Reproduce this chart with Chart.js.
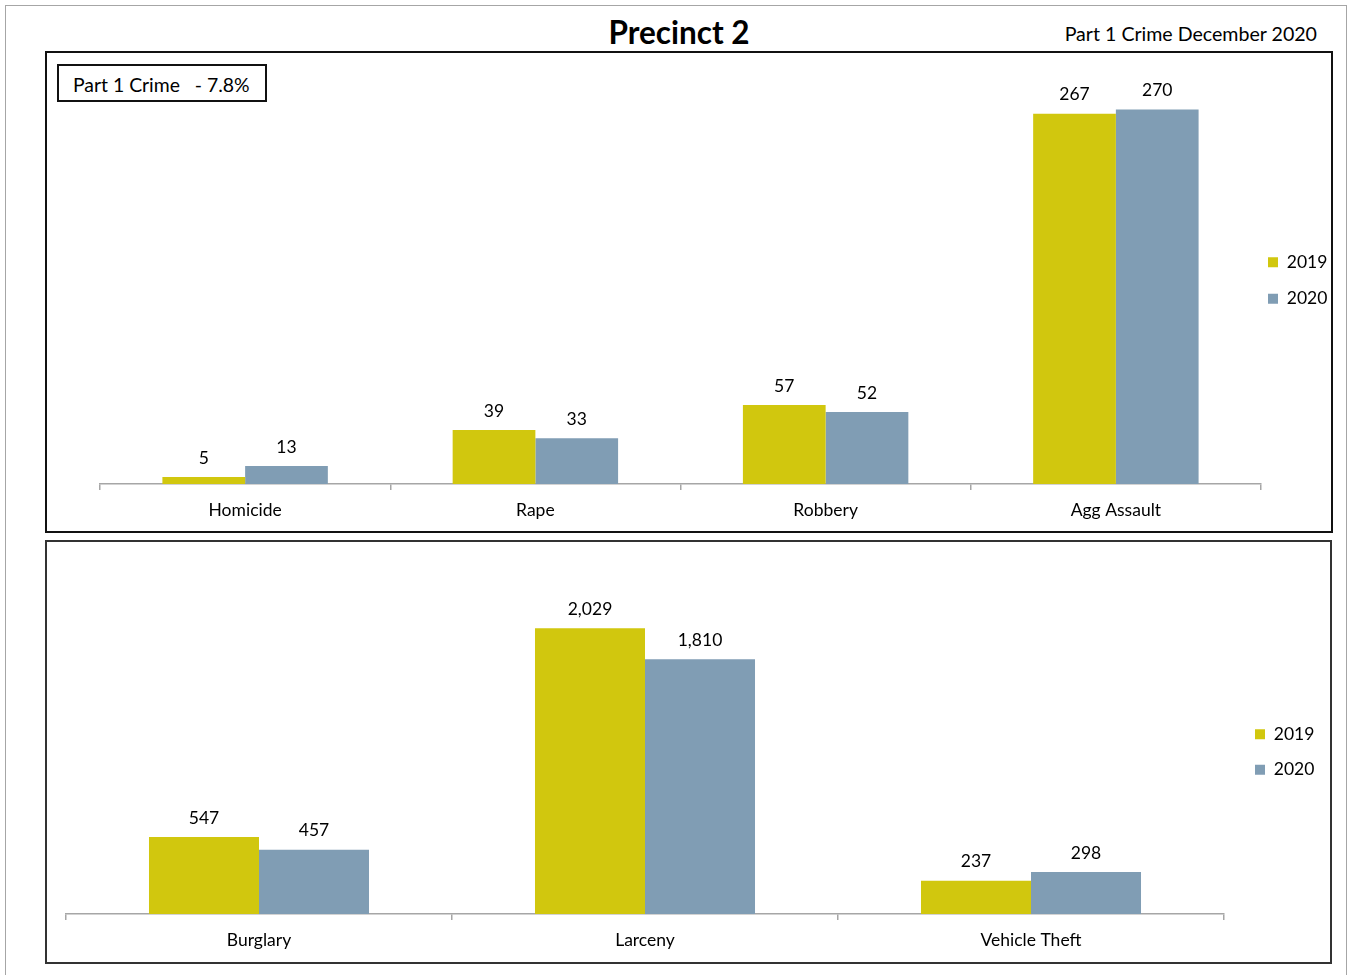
<!DOCTYPE html>
<html>
<head>
<meta charset="utf-8">
<script src="https://cdn.jsdelivr.net/npm/chart.js@4.4.1/dist/chart.umd.min.js"></script>
<style>
  body { margin: 0; background: #fff; font-family: Lato, sans-serif; }
  #page { position: relative; width: 1350px; height: 975px; overflow: hidden; }
  #frame { position: absolute; left: 5px; top: 5px; width: 1340px; height: 990px; border: 1.5px solid #a6a6a6; }
  #title { position: absolute; left: 0; width: 1358px; top: 13px; text-align: center; font-weight: bold; font-size: 31.5px; color: #000; }
  #subtitle { position: absolute; right: 33px; top: 22px; font-size: 19.6px; color: #000; }
  .box { position: absolute; border: 2px solid #111; background: #fff; }
  #box1 { left: 45px; top: 51px; width: 1284px; height: 478px; }
  #box2 { left: 45px; top: 540px; width: 1283px; height: 420px; border-color: #333; }
  #note { position: absolute; left: 57px; top: 64px; width: 206px; height: 34px; border: 2px solid #111;
          font-size: 19.4px; line-height: 34px; background: #fff; z-index: 2; }
  #note span { position: absolute; left: 14px; top: 2px; white-space: pre; }
  canvas { position: absolute; left: 0; top: 0; }
</style>
</head>
<body>
<div id="page">
  <div id="frame"></div>
  <div id="title">Precinct 2</div>
  <div id="subtitle">Part 1 Crime December 2020</div>
  <div class="box" id="box1"><canvas id="chart1" width="1284" height="478"></canvas></div>
  <div class="box" id="box2"><canvas id="chart2" width="1283" height="420"></canvas></div>
  <div id="note"><span>Part 1 Crime   - 7.8%</span></div>
</div>
<script>
// violent crimes
const violentLabels = ['Homicide', 'Rape', 'Robbery', 'Agg Assault'];
const violent2019 = [5, 39, 57, 267];
const violent2020 = [13, 33, 52, 270];

// property crimes
const propertyLabels = ['Burglary', 'Larceny', 'Vehicle Theft'];
const property2019 = [547, 2029, 237];
const property2020 = [457, 1810, 298];

const yellow = '#d1c70e';
const steel = '#809db4';
const fontName = 'Lato';

// value above each bar
const barValues = {
    id: 'barValues',
    afterDatasetsDraw(chart) {
        const ctx = chart.ctx;
        ctx.save();
        ctx.font = '17.5px ' + fontName;
        ctx.fillStyle = '#000';
        ctx.textAlign = 'center';
        ctx.textBaseline = 'middle';
        chart.data.datasets.forEach((ds, i) => {
            chart.getDatasetMeta(i).data.forEach((bar, j) => {
                ctx.fillText(ds.data[j].toLocaleString('en-US'), bar.x, bar.y - 19);
            });
        });
        ctx.restore();
    }
};

// move the legend next to the plot like excel does
const legendSpot = {
    id: 'legendSpot',
    afterLayout(chart, args, opts) {
        const lg = chart.legend;
        const pad = chart.options.plugins.legend.labels.padding;
        lg.left = chart.chartArea.right + opts.gap - pad;
        lg.right = lg.left + 100;
        lg.top = opts.rowTop - pad;
        lg.bottom = lg.top + 200;
    }
};

function makeConfig(labels, a, b, yMax, pad, cat, legendGap, rowTop, spacing) {
    return {
        type: 'bar',
        data: {
            labels: labels,
            datasets: [
                { label: '2019', data: a, backgroundColor: yellow, borderWidth: 0 },
                { label: '2020', data: b, backgroundColor: steel, borderWidth: 0 }
            ]
        },
        options: {
            responsive: false,
            animation: false,
            layout: { padding: pad },
            datasets: { bar: { categoryPercentage: cat, barPercentage: 1.0 } },
            scales: {
                x: {
                    grid: { display: true, drawOnChartArea: false, drawTicks: true, tickLength: 6, color: '#a6a6a6', lineWidth: 1.5 },
                    border: { display: true, color: '#a6a6a6', width: 1.5 },
                    ticks: { color: '#000', font: { family: fontName, size: 17.5 }, padding: 10 },
                    afterFit: s => { s.height = 40; }
                },
                y: { display: false, min: 0, max: yMax }
            },
            plugins: {
                legend: {
                    position: 'right',
                    align: 'start',
                    maxWidth: 60,
                    labels: { boxWidth: 10, boxHeight: 10, padding: spacing - 17, color: '#000', font: { family: fontName, size: 17.5 } }
                },
                tooltip: { enabled: false },
                legendSpot: { gap: legendGap, rowTop: rowTop }
            }
        },
        plugins: [barValues, legendSpot]
    };
}

new Chart(document.getElementById('chart1').getContext('2d'),
    makeConfig(violentLabels, violent2019, violent2020, 300,
        { left: 53, top: 15, right: 10, bottom: 7 }, 0.57, 7, 200.5, 36));

new Chart(document.getElementById('chart2').getContext('2d'),
    makeConfig(propertyLabels, property2019, property2020, 2500,
        { left: 19, top: 20, right: 46, bottom: 8 }, 0.57, 31, 183.5, 35));
</script>
</body>
</html>
